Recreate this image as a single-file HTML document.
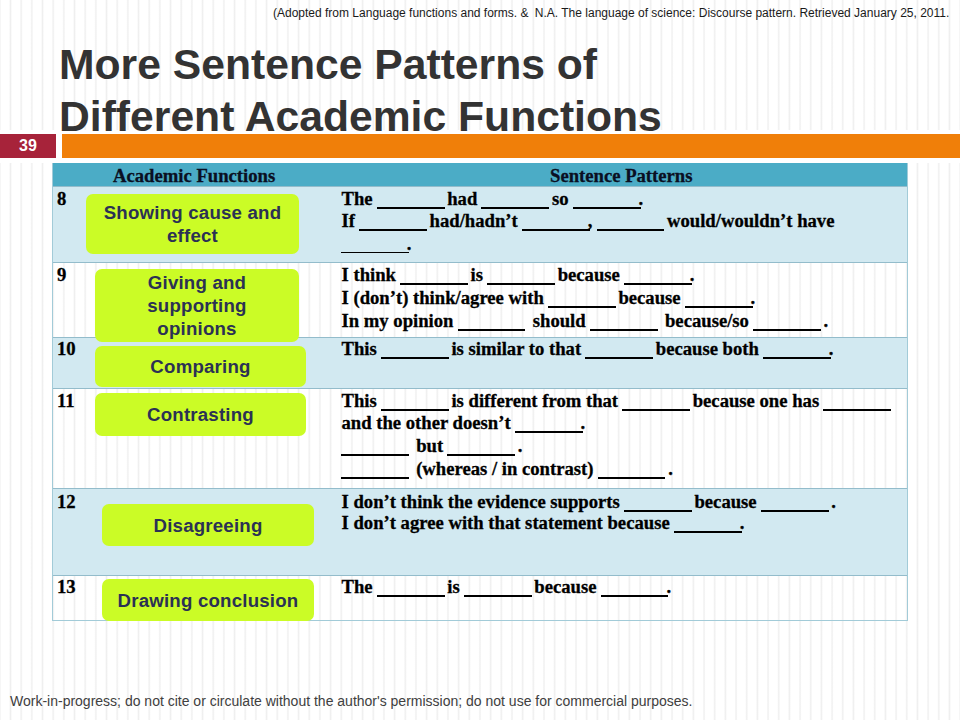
<!DOCTYPE html>
<html><head><meta charset="utf-8">
<style>
*{margin:0;padding:0;box-sizing:border-box}
html,body{width:960px;height:720px;overflow:hidden}
body{position:relative;background-color:#fff;
background-image:linear-gradient(90deg,#fff -1.67px,#efefef -0.17px,#fff 1.33px,#fff 9.00px,#efefef 10.50px,#fff 12.00px,#fff 19.67px,#efefef 21.17px,#fff 22.67px,#fff 30.34px,#efefef 31.84px,#fff 33.34px,#fff 41.01px,#efefef 42.51px,#fff 44.01px,#fff 51.68px,#efefef 53.18px,#fff 54.68px,#fff 62.35px,#efefef 63.85px,#fff 65.35px,#fff 73.02px,#efefef 74.52px,#fff 76.02px,#fff 83.69px,#efefef 85.19px,#fff 86.69px,#fff 94.36px,#efefef 95.86px,#fff 97.36px,#fff 105.03px,#efefef 106.53px,#fff 108.03px,#fff 115.70px,#efefef 117.20px,#fff 118.70px,#fff 126.37px,#efefef 127.87px,#fff 129.37px,#fff 137.04px,#efefef 138.54px,#fff 140.04px,#fff 147.71px,#efefef 149.21px,#fff 150.71px,#fff 158.38px,#efefef 159.88px,#fff 161.38px,#fff 169.05px,#efefef 170.55px,#fff 172.05px,#fff 179.72px,#efefef 181.22px,#fff 182.72px,#fff 190.39px,#efefef 191.89px,#fff 193.39px,#fff 201.06px,#efefef 202.56px,#fff 204.06px,#fff 211.73px,#efefef 213.23px,#fff 214.73px,#fff 222.40px,#efefef 223.90px,#fff 225.40px,#fff 233.07px,#efefef 234.57px,#fff 236.07px,#fff 243.74px,#efefef 245.24px,#fff 246.74px,#fff 254.41px,#efefef 255.91px,#fff 257.41px,#fff 265.08px,#efefef 266.58px,#fff 268.08px,#fff 275.75px,#efefef 277.25px,#fff 278.75px,#fff 286.42px,#efefef 287.92px,#fff 289.42px,#fff 297.09px,#efefef 298.59px,#fff 300.09px,#fff 307.76px,#efefef 309.26px,#fff 310.76px,#fff 318.43px,#efefef 319.93px,#fff 321.43px,#fff 329.10px,#efefef 330.60px,#fff 332.10px,#fff 339.77px,#efefef 341.27px,#fff 342.77px,#fff 350.44px,#efefef 351.94px,#fff 353.44px,#fff 361.11px,#efefef 362.61px,#fff 364.11px,#fff 371.78px,#efefef 373.28px,#fff 374.78px,#fff 382.45px,#efefef 383.95px,#fff 385.45px,#fff 393.12px,#efefef 394.62px,#fff 396.12px,#fff 403.79px,#efefef 405.29px,#fff 406.79px,#fff 414.46px,#efefef 415.96px,#fff 417.46px,#fff 425.13px,#efefef 426.63px,#fff 428.13px,#fff 435.80px,#efefef 437.30px,#fff 438.80px,#fff 446.47px,#efefef 447.97px,#fff 449.47px,#fff 457.14px,#efefef 458.64px,#fff 460.14px,#fff 467.81px,#efefef 469.31px,#fff 470.81px,#fff 478.48px,#efefef 479.98px,#fff 481.48px,#fff 489.15px,#efefef 490.65px,#fff 492.15px,#fff 499.82px,#efefef 501.32px,#fff 502.82px,#fff 510.49px,#efefef 511.99px,#fff 513.49px,#fff 521.16px,#efefef 522.66px,#fff 524.16px,#fff 531.83px,#efefef 533.33px,#fff 534.83px,#fff 542.50px,#efefef 544.00px,#fff 545.50px,#fff 553.17px,#efefef 554.67px,#fff 556.17px,#fff 563.84px,#efefef 565.34px,#fff 566.84px,#fff 574.51px,#efefef 576.01px,#fff 577.51px,#fff 585.18px,#efefef 586.68px,#fff 588.18px,#fff 595.85px,#efefef 597.35px,#fff 598.85px,#fff 606.52px,#efefef 608.02px,#fff 609.52px,#fff 617.19px,#efefef 618.69px,#fff 620.19px,#fff 627.86px,#efefef 629.36px,#fff 630.86px,#fff 638.53px,#efefef 640.03px,#fff 641.53px,#fff 649.20px,#efefef 650.70px,#fff 652.20px,#fff 659.87px,#efefef 661.37px,#fff 662.87px,#fff 670.54px,#efefef 672.04px,#fff 673.54px,#fff 681.21px,#efefef 682.71px,#fff 684.21px,#fff 691.88px,#efefef 693.38px,#fff 694.88px,#fff 702.55px,#efefef 704.05px,#fff 705.55px,#fff 713.22px,#efefef 714.72px,#fff 716.22px,#fff 723.89px,#efefef 725.39px,#fff 726.89px,#fff 734.56px,#efefef 736.06px,#fff 737.56px,#fff 745.23px,#efefef 746.73px,#fff 748.23px,#fff 755.90px,#efefef 757.40px,#fff 758.90px,#fff 766.57px,#efefef 768.07px,#fff 769.57px,#fff 777.24px,#efefef 778.74px,#fff 780.24px,#fff 787.91px,#efefef 789.41px,#fff 790.91px,#fff 798.58px,#efefef 800.08px,#fff 801.58px,#fff 809.25px,#efefef 810.75px,#fff 812.25px,#fff 819.92px,#efefef 821.42px,#fff 822.92px,#fff 830.59px,#efefef 832.09px,#fff 833.59px,#fff 841.26px,#efefef 842.76px,#fff 844.26px,#fff 851.93px,#efefef 853.43px,#fff 854.93px,#fff 862.60px,#efefef 864.10px,#fff 865.60px,#fff 873.27px,#efefef 874.77px,#fff 876.27px,#fff 883.94px,#efefef 885.44px,#fff 886.94px,#fff 894.61px,#efefef 896.11px,#fff 897.61px,#fff 905.28px,#efefef 906.78px,#fff 908.28px,#fff 915.95px,#efefef 917.45px,#fff 918.95px,#fff 926.62px,#efefef 928.12px,#fff 929.62px,#fff 937.29px,#efefef 938.79px,#fff 940.29px,#fff 947.96px,#efefef 949.46px,#fff 950.96px,#fff 958.63px,#efefef 960.13px,#fff 961.63px);
font-family:"Liberation Sans",sans-serif}
.a{position:absolute;white-space:nowrap}
.cite{left:273px;top:5.5px;font-size:12px;line-height:14px;color:#1a1a1a}
.title{left:59px;font-size:42.67px;font-weight:bold;color:#333;line-height:52px}
.num{left:0;top:134px;width:56px;height:24px;background:#a7233a;color:#fff;font-weight:bold;font-size:16px;line-height:24px;text-align:center}
.bar{left:62px;top:134px;width:898px;height:24px;background:#f07f09}
.tbl{left:52px;top:163px;width:856px;height:458px;border:1px solid #a2cbd8;border-top:none}
.hdr{left:52px;top:163px;width:856px;height:23px;background:#4bacc6}
.row{position:absolute;left:52px;width:856px;border-top:1px solid #93bccb}
.blue{background:#d2e9f1}
.h{font-family:"Liberation Serif",serif;font-weight:bold;font-size:18.67px;color:#0a0f22;line-height:22px;-webkit-text-stroke:0.3px #0a0f22}
.s{font-family:"Liberation Serif",serif;font-weight:bold;font-size:18.67px;color:#000;line-height:22px;-webkit-text-stroke:0.3px #000}
.g{position:absolute;background:#cbfc26;border-radius:7px;color:#2b3154;font-weight:bold;font-size:18.67px;line-height:23px;letter-spacing:0.2px;text-align:center;display:flex;flex-direction:column;justify-content:center}
.u{display:inline-block;width:65.3px;height:0;position:relative}
.u:after{content:"";position:absolute;left:-0.5px;right:-2px;top:2px;height:1.7px;background:#000}
.foot{left:10px;top:693px;font-size:14px;line-height:16px;color:#404040}
</style></head><body>
<div class="a" style="left:0;top:129.5px;width:960px;height:33.5px;background:#fff"></div>
<div class="a cite">(Adopted from Language functions and forms. &amp; <span style="margin-left:3px">N.A.</span> The language of science: Discourse pattern. Retrieved January 25, 2011.</div>
<div class="a title" style="top:38px">More Sentence Patterns of</div>
<div class="a title" style="top:89.5px">Different Academic Functions</div>
<div class="a num">39</div>
<div class="a bar"></div>

<div class="a hdr"></div>
<div class="row blue" style="top:186px;height:76px"></div>
<div class="row" style="top:262px;height:76px"></div>
<div class="row blue" style="top:337px;height:51px"></div>
<div class="row" style="top:388px;height:100px"></div>
<div class="row blue" style="top:488px;height:87px"></div>
<div class="row" style="top:575px;height:46px"></div>
<div class="a tbl"></div>

<div class="a h" style="left:113px;top:165px">Academic Functions</div>
<div class="a h" style="left:550px;top:165px">Sentence Patterns</div>

<div class="a s" style="left:57px;top:188px">8</div>
<div class="a s" style="left:57px;top:264px">9</div>
<div class="a s" style="left:57px;top:338px">10</div>
<div class="a s" style="left:57px;top:390px">11</div>
<div class="a s" style="left:57px;top:491px">12</div>
<div class="a s" style="left:57px;top:576px">13</div>

<div class="a s" style="left:341.5px;top:188px">The <i class="u"></i> had <i class="u"></i> so <i class="u"></i>.</div>
<div class="a s" style="left:341.5px;top:210px">If <i class="u"></i> had/hadn’t <i class="u"></i>, <i class="u"></i> would/wouldn’t have</div>
<div class="a s" style="left:341.5px;top:232.7px"><i class="u"></i>.</div>

<div class="a s" style="left:341.5px;top:264px">I think <i class="u"></i> is <i class="u"></i> because <i class="u"></i>.</div>
<div class="a s" style="left:341.5px;top:287px">I (don’t) think/agree with <i class="u"></i> because <i class="u"></i>.</div>
<div class="a s" style="left:341.5px;top:310px">In my opinion <i class="u"></i>&nbsp; should <i class="u"></i>&nbsp; because/so <i class="u"></i> .</div>

<div class="a s" style="left:341.5px;top:338px">This <i class="u"></i> is similar to that <i class="u"></i> because both <i class="u"></i>.</div>

<div class="a s" style="left:341.5px;top:390px">This <i class="u"></i> is different from that <i class="u"></i> because one has <i class="u"></i></div>
<div class="a s" style="left:341.5px;top:412px">and the other doesn’t <i class="u"></i>.</div>
<div class="a s" style="left:341.5px;top:435px"><i class="u"></i>&nbsp; but <i class="u"></i> .</div>
<div class="a s" style="left:341.5px;top:458px"><i class="u"></i>&nbsp; (whereas / in contrast) <i class="u"></i> .</div>

<div class="a s" style="left:341.5px;top:491px">I don’t think the evidence supports <i class="u"></i> because <i class="u"></i> .</div>
<div class="a s" style="left:341.5px;top:512px">I don’t agree with that statement because <i class="u"></i>.</div>

<div class="a s" style="left:341.5px;top:576px">The <i class="u"></i> is <i class="u"></i> because <i class="u"></i>.</div>

<div class="g" style="left:86px;top:194px;width:213px;height:59.5px">Showing cause and<br>effect</div>
<div class="g" style="left:95px;top:269px;width:204px;height:73px">Giving and<br>supporting<br>opinions</div>
<div class="g" style="left:95px;top:345.5px;width:211px;height:41px">Comparing</div>
<div class="g" style="left:95px;top:393px;width:211px;height:43px">Contrasting</div>
<div class="g" style="left:102px;top:504px;width:212px;height:42px">Disagreeing</div>
<div class="g" style="left:102px;top:579px;width:212px;height:42px">Drawing conclusion</div>

<div class="a foot">Work-in-progress; do not cite or circulate without the author's permission; do not use for commercial purposes.</div>
</body></html>
